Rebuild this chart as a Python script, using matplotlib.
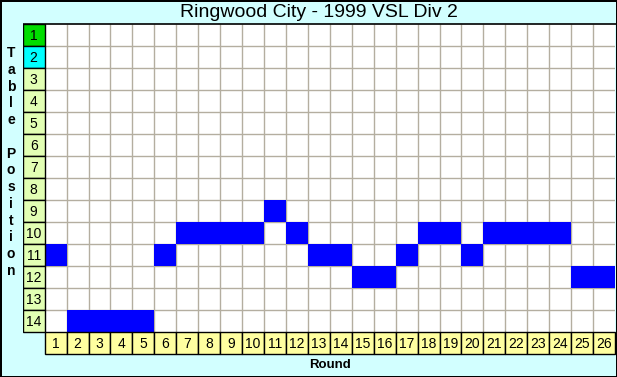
import matplotlib.pyplot as plt
from matplotlib.patches import Rectangle

# datos: posición en la tabla por jornada
rounds = list(range(1, 27))
positions = [11, 14, 14, 14, 14, 11, 10, 10, 10, 10, 9, 10, 11, 11,
             12, 12, 11, 10, 10, 11, 10, 10, 10, 10, 12, 12]
table_rows = list(range(1, 15))
row_colors = ['#00dd00', '#00ffff'] + ['#e2ffb4'] * 12

title = 'Ringwood City - 1999 VSL Div 2'
bg = '#d2ffff'
font = 'Liberation Sans'

fig = plt.figure(figsize=(6.17, 3.77), dpi=100)
fig.patch.set_facecolor(bg)
fig.patch.set_edgecolor('black')
fig.patch.set_linewidth(2)

ax = fig.add_axes([22.7 / 617, 1 - 354 / 377, (615 - 22.7) / 617, (354 - 24.3) / 377])
ax.set_xlim(-0.5, 26.5)
ax.set_ylim(15.5, 0.5)
ax.axis('off')

# fondo blanco de la rejilla
ax.add_patch(Rectangle((0.5, 0.5), 26, 14, facecolor='white', edgecolor='none', zorder=0))

# rejilla gris
ax.vlines([r + 0.5 for r in rounds[:-1]], 0.5, 14.5, color='#b4aea0', lw=1, zorder=1)
ax.hlines([p + 0.5 for p in table_rows[:-1]], 0.5, 26.5, color='#b4aea0', lw=1, zorder=1)

# posiciones (celdas azules)
ax.bar(rounds, 1, bottom=[p - 0.5 for p in positions], width=1, color='#0000ff', zorder=2)

# etiquetas de filas (posición)
ax.barh(table_rows, 1, left=-0.5, height=1, color=row_colors, edgecolor='black', lw=1, zorder=3)
for p in table_rows:
    ax.text(0, p + 0.05, str(p), ha='center', va='center', fontsize=10, family=font, zorder=4)

# etiquetas de columnas (jornada)
ax.bar(rounds, 1, bottom=14.5, width=1, color='#ffffa0', edgecolor='black', lw=1, zorder=3,
       clip_on=False)
for r in rounds:
    ax.text(r, 15.05, str(r), ha='center', va='center', fontsize=10, family=font, zorder=4)

# línea bajo el título
ax.hlines(0.5, -0.5, 26.6, color='black', lw=1.2, zorder=5, clip_on=False)

fig.text(319 / 617, 1 - 12.5 / 377, title, ha='center', va='center', fontsize=14, family=font)
fig.text(330 / 617, 1 - 365 / 377, 'Round', ha='center', va='center', fontsize=9.5,
         family=font, fontweight='bold')
fig.text(11 / 617, 1 - 162 / 377, '\n'.join('Table Position'), ha='center', va='center',
         fontsize=10, family=font, fontweight='bold', linespacing=1.25)

fig.savefig('out.png', dpi=100, facecolor=bg, edgecolor='black')
